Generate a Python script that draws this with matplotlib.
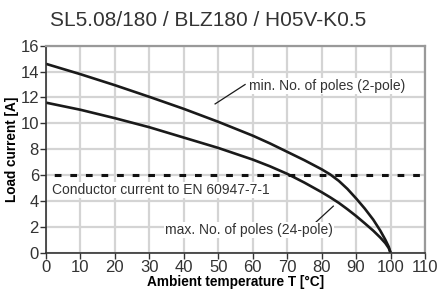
import matplotlib
matplotlib.use("Agg")
import matplotlib.pyplot as plt

# values
temp_2pole = [0, 10, 20, 30, 40, 50, 60, 65, 70, 75, 77.5, 80, 82.5, 85, 87.5, 90, 92.5, 95, 97, 98.5, 99.5, 100]
load_2pole = [14.6, 13.8, 12.95, 12.05, 11.12, 10.12, 9.05, 8.45, 7.8, 7.15, 6.8, 6.45, 6.05, 5.55,
              4.93, 4.2, 3.42, 2.55, 1.72, 1.0, 0.45, 0]

temp_24pole = [0, 10, 20, 30, 40, 50, 60, 65, 70, 75, 80, 82.5, 85, 87.5, 90, 92.5, 95, 97, 98.5, 99.5, 100]
load_24pole = [11.6, 11.05, 10.4, 9.7, 8.9, 8.1, 7.2, 6.68, 6.1, 5.42, 4.68, 4.28, 3.85, 3.36,
               2.84, 2.28, 1.7, 1.18, 0.74, 0.35, 0]

conductor_current = 6
x_ticks = list(range(0, 111, 10))
y_ticks = list(range(0, 17, 2))

plt.rcParams["font.family"] = ["Liberation Sans", "DejaVu Sans"]

fig = plt.figure(figsize=(4.37, 2.93), dpi=100)
ax = fig.add_axes([0.105, 0.1375, 0.8675, 0.7065])

ax.set_xlim(0, 110)
ax.set_ylim(0, 16)
ax.set_xticks(x_ticks)
ax.set_yticks(y_ticks)
ax.grid(True, color="#d4d4d4", linewidth=1.6)
ax.set_axisbelow(True)

ax.plot(temp_2pole, load_2pole, color="#1a1a1a", linewidth=1.9, solid_capstyle="butt")
ax.plot(temp_24pole, load_24pole, color="#1a1a1a", linewidth=1.9, solid_capstyle="butt")
ax.axhline(conductor_current, color="#111111", linewidth=2.2, linestyle=(-2.7, (2.2, 2.9)))

box = dict(facecolor="white", edgecolor="none", pad=0.8)
ax.text(58.8, 12.9, "min. No. of poles (2-pole)", fontsize=10, color="#333333",
        va="center", ha="left", bbox=box)
ax.plot([49.1, 57.8], [11.5, 13.0], color="#1a1a1a", linewidth=0.9)

ax.text(1.7, 4.85, "Conductor current to EN 60947-7-1", fontsize=10, color="#333333",
        va="center", ha="left", bbox=box)

ax.text(34.5, 1.75, "max. No. of poles (24-pole)", fontsize=10, color="#333333",
        va="center", ha="left", bbox=box)
ax.plot([78.1, 83.4], [2.3, 3.6], color="#1a1a1a", linewidth=0.9)

for side in ["top", "right"]:
    ax.spines[side].set_color("#999999")
    ax.spines[side].set_linewidth(1.6)
for side in ["left", "bottom"]:
    ax.spines[side].set_color("#333333")
    ax.spines[side].set_linewidth(1.2)

ax.tick_params(axis="both", direction="out", length=4, width=1, color="#333333",
               labelsize=12, labelcolor="#333333", pad=1)

ax.set_xlabel("Ambient temperature T [°C]", fontsize=9.8, fontweight="bold", labelpad=0)
ax.set_ylabel("Load current [A]", fontsize=9.8, fontweight="bold", labelpad=1)

fig.text(50 / 437, 1 - 20 / 293, "SL5.08/180 / BLZ180 / H05V-K0.5", fontsize=15,
         color="#333333", ha="left", va="center")

fig.savefig("out.png", dpi=100)
